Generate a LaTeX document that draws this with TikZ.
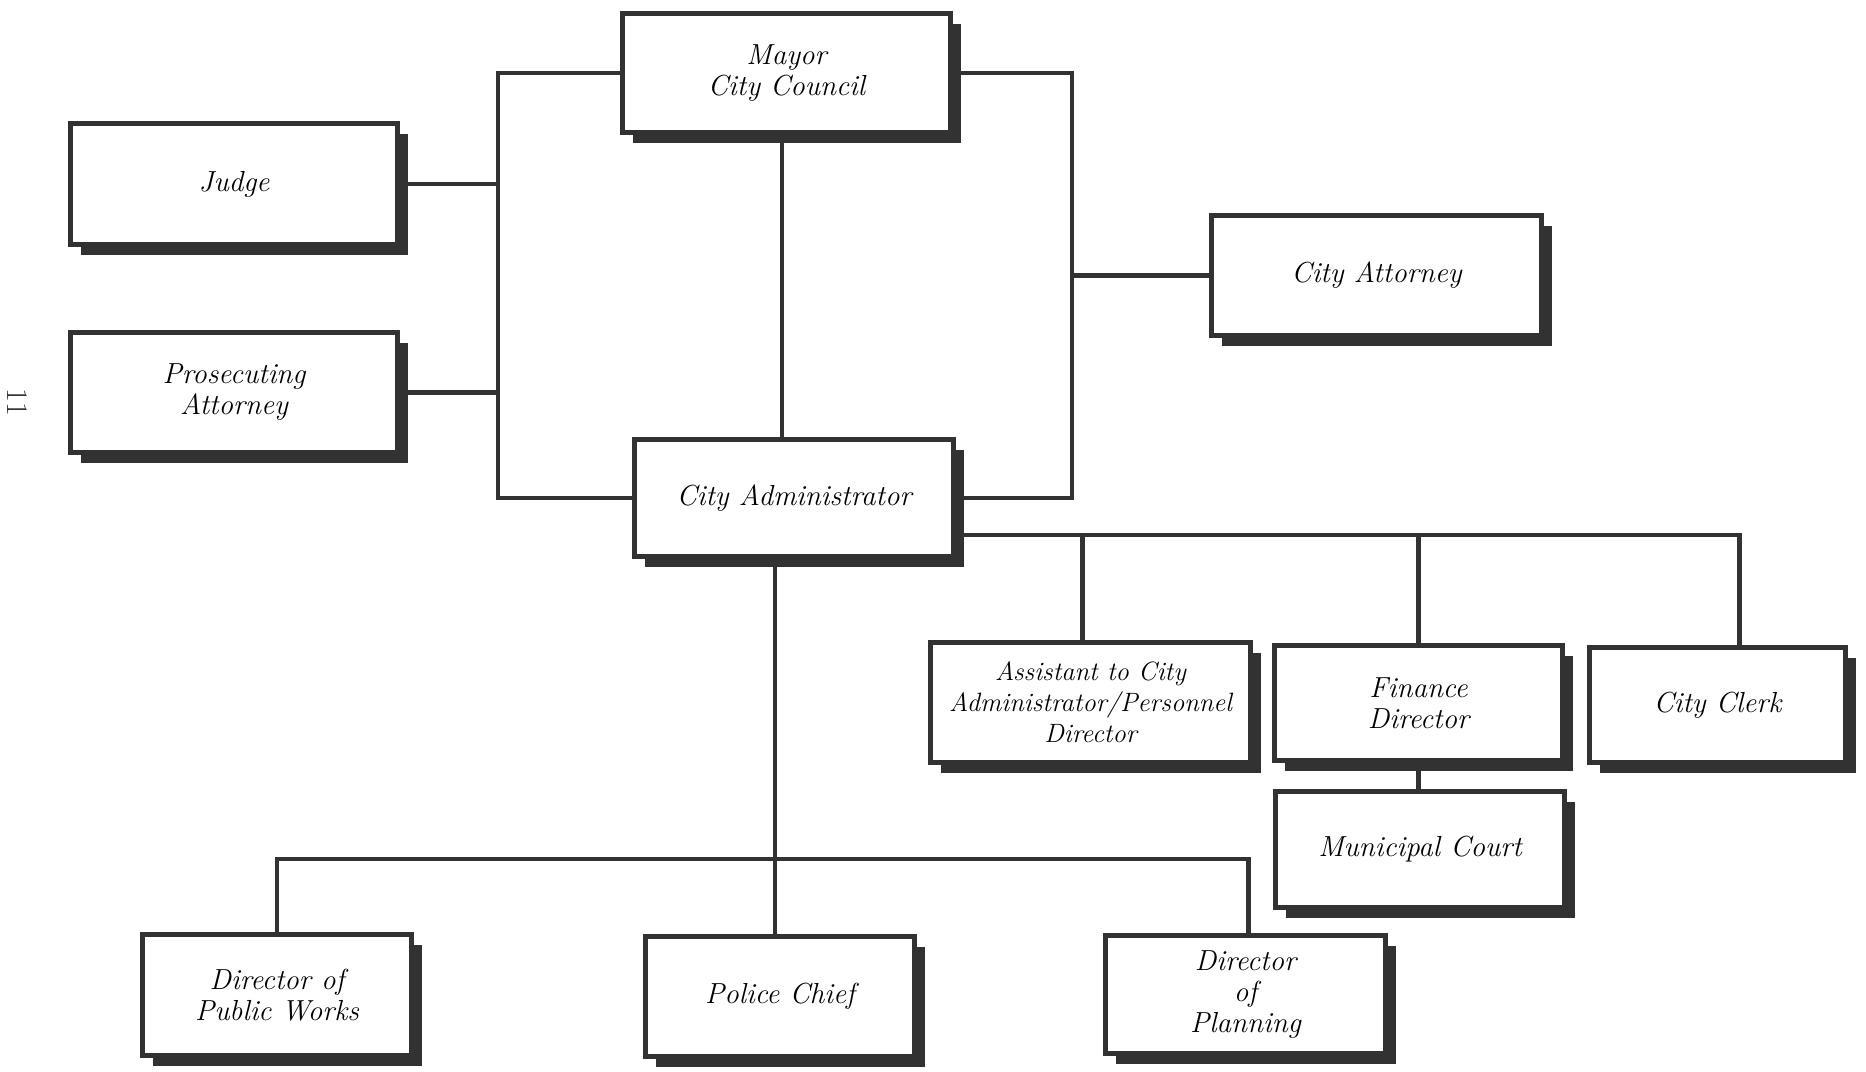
\documentclass[tikz,border=0pt]{standalone}
\usetikzlibrary{shadows}
\definecolor{ink}{RGB}{50,50,50}
\begin{document}
\begin{tikzpicture}[x=1pt,y=-1pt,
  orgbox/.style={draw=ink, line width=5pt, fill=white, rectangle, align=center,
    inner sep=0pt, font=\fontsize{29}{31}\selectfont\itshape,
    drop shadow={shadow xshift=10pt, shadow yshift=-10pt, fill=ink, opacity=1}},
  link/.style={draw=ink, line width=4.5pt}]
\useasboundingbox (0,0) rectangle (1866,1071);
\fill[white] (0,0) rectangle (1866,1071);
% boxes (size = outer size minus line width)
\node[orgbox, minimum width=328pt, minimum height=119pt] (mayor) at (786.5,73) {Mayor\\City Council};
\node[orgbox, minimum width=327pt, minimum height=121pt] (judge) at (234,184) {Judge};
\node[orgbox, minimum width=327pt, minimum height=120pt] (pros) at (234,392.5) {Prosecuting\\Attorney};
\node[orgbox, minimum width=330pt, minimum height=120pt] (attorney) at (1376.5,275.5) {City Attorney};
\node[orgbox, minimum width=319pt, minimum height=117pt] (admin) at (794,498) {City Administrator};
\node[orgbox, minimum width=320pt, minimum height=120pt, font=\fontsize{26.5}{31}\selectfont\itshape] (asst) at (1090.5,702.5) {Assistant to City\\Administrator/Personnel\\Director};
\node[orgbox, minimum width=288pt, minimum height=115pt] (finance) at (1418.5,703) {Finance\\Director};
\node[orgbox, minimum width=256pt, minimum height=115pt] (clerk) at (1717.5,705) {City Clerk};
\node[orgbox, minimum width=289pt, minimum height=116pt] (court) at (1420,849.5) {Municipal Court};
\node[orgbox, minimum width=269pt, minimum height=121pt] (pw) at (277,995) {Director of\\Public Works};
\node[orgbox, minimum width=269pt, minimum height=120pt] (police) at (780,996.5) {Police Chief};
\node[orgbox, minimum width=280pt, minimum height=118pt] (planning) at (1245.5,994.5) {Director\\of\\Planning};
% page number
\node[rotate=-90, font=\fontsize{30}{32}\selectfont, text=ink] (pageno) at (17,402) {11};
% spine coordinates
\coordinate (lx) at (498,0);
\coordinate (rx) at (1072,0);
\coordinate (mx) at (782,0);
\coordinate (busA) at (0,535);
\coordinate (busB) at (0,859);
% connectors
\draw[link] (mayor.west) -- (mayor.west -| lx) |- (admin.west);
\draw[link] (judge.east) -- (judge.east -| lx);
\draw[link] (pros.east) -- (pros.east -| lx);
\draw[link] (mayor.east) -- (mayor.east -| rx) |- (admin.east);
\draw[link] (attorney.west) -- (attorney.west -| rx);
\draw[link] (mayor.south -| mx) -- (admin.north -| mx);
\draw[link] (admin.east |- busA) -- ([xshift=22pt]clerk.north |- busA) -- ([xshift=22pt]clerk.north);
\draw[link] ([xshift=-8pt]asst.north) -- ([xshift=-8pt]asst.north |- busA);
\draw[link] (finance.north) -- (finance.north |- busA);
\draw[link] (finance.south) -- (finance.south |- court.north);
\draw[link] ([xshift=-5pt]police.north) -- ([xshift=-5pt]police.north |- admin.south);
\draw[link] (pw.north) -- (pw.north |- busB) -- ([xshift=3pt]planning.north |- busB) -- ([xshift=3pt]planning.north);
\end{tikzpicture}
\end{document}
